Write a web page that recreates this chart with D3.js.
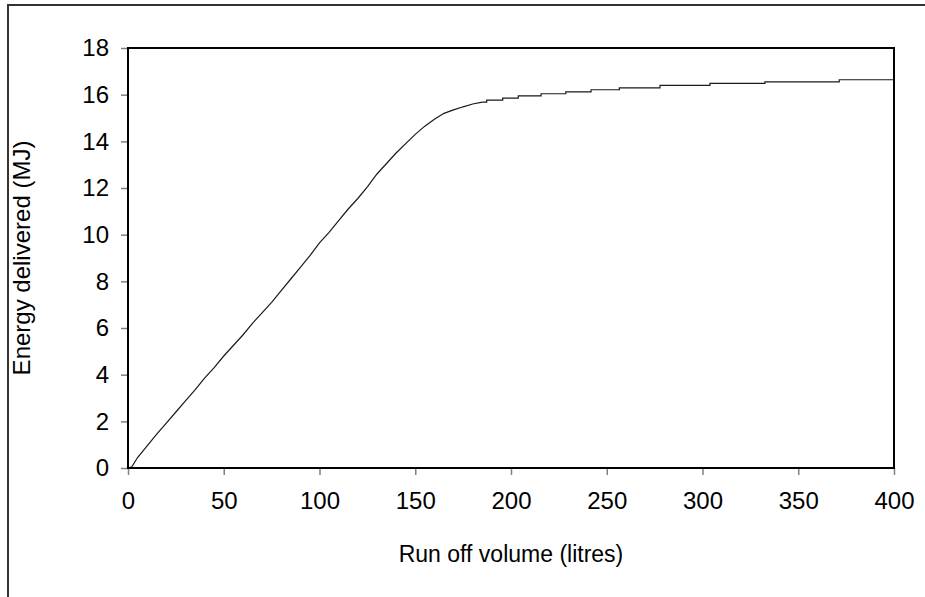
<!DOCTYPE html>
<html>
<head>
<meta charset="utf-8">
<script src="https://cdn.jsdelivr.net/npm/d3@7"></script>
<style>
  body { margin: 0; background: #fff; }
  svg text { font-family: "Liberation Sans", Arial, sans-serif; fill: #000; }
</style>
</head>
<body>
<svg id="chart"></svg>
<script>
// Rising part of the curve (litres, MJ)
var riseLitres = [0, 2, 5, 10, 15, 20, 25, 30, 35, 40, 45, 50, 55, 60, 65, 70, 75, 80, 85, 90, 95,
                  100, 105, 110, 115, 120, 125, 130, 135, 140, 145, 150, 155, 160, 165, 170, 175, 180, 185];
var riseEnergy = [0, 0.05, 0.45, 0.95, 1.45, 1.92, 2.4, 2.88, 3.35, 3.85, 4.3, 4.8, 5.25, 5.7, 6.2, 6.65, 7.1, 7.6, 8.1, 8.6, 9.1,
                  9.65, 10.1, 10.6, 11.1, 11.55, 12.05, 12.6, 13.05, 13.5, 13.9, 14.3, 14.65, 14.95, 15.2, 15.35, 15.48, 15.6, 15.68];
// Plateau, drawn as steps
var stepLitres = [185, 187.3, 195.7, 203.8, 215.7, 228.6, 241.8, 256.6, 277.8, 303.9, 332.6, 371.4, 400];
var stepEnergy = [15.68, 15.77, 15.85, 15.95, 16.04, 16.12, 16.21, 16.29, 16.40, 16.48, 16.55, 16.64, 16.64];

var xTicks = [0, 50, 100, 150, 200, 250, 300, 350, 400];
var yTicks = [0, 2, 4, 6, 8, 10, 12, 14, 16, 18];

var W = 925, H = 597;
var plot = {left: 128, top: 48, right: 894, bottom: 468};

var svg = d3.select("#chart").attr("width", W).attr("height", H);

// outer frame
svg.append("rect")
    .attr("x", 8).attr("y", 5)
    .attr("width", 940).attr("height", 620)
    .style("fill", "none").style("stroke", "#333").style("stroke-width", 2);

var x = d3.scaleLinear().domain([0, 400]).range([plot.left, plot.right]);
var y = d3.scaleLinear().domain([0, 18]).range([plot.bottom, plot.top]);

// axes
var xAxis = svg.append("g")
    .attr("transform", "translate(0," + plot.bottom + ")")
    .call(d3.axisBottom(x).tickValues(xTicks).tickSize(7).tickPadding(17).tickFormat(d3.format("d")));
var yAxis = svg.append("g")
    .attr("transform", "translate(" + plot.left + ",0)")
    .call(d3.axisLeft(y).tickValues(yTicks).tickSize(7).tickPadding(12).tickFormat(d3.format("d")));

[xAxis, yAxis].forEach(function(g){
    g.select(".domain").remove();
    g.selectAll(".tick line").style("stroke", "#808080").style("stroke-width", 1.5);
    g.selectAll(".tick text").style("font-size", "24px").style("font-family", "Liberation Sans, Arial, sans-serif").style("fill", "#000");
});

// the curve
var rise = riseLitres.map(function(v, i){ return [v, riseEnergy[i]]; });
var steps = stepLitres.map(function(v, i){ return [v, stepEnergy[i]]; });

var line = d3.line()
    .x(function(d){ return x(d[0]); })
    .y(function(d){ return y(d[1]); });

svg.append("path")
    .attr("d", line(rise))
    .style("fill", "none").style("stroke", "#1a1a1a").style("stroke-width", 1.2);
svg.append("path")
    .attr("d", line.curve(d3.curveStepAfter)(steps))
    .style("fill", "none").style("stroke", "#1a1a1a").style("stroke-width", 1.2);

// plot frame
svg.append("rect")
    .attr("x", plot.left).attr("y", plot.top)
    .attr("width", plot.right - plot.left).attr("height", plot.bottom - plot.top)
    .style("fill", "none").style("stroke", "#000").style("stroke-width", 2);

// axis titles
svg.append("text")
    .attr("x", (plot.left + plot.right) / 2).attr("y", 562)
    .attr("text-anchor", "middle")
    .style("font-size", "23px")
    .text("Run off volume (litres)");
svg.append("text")
    .attr("transform", "translate(30," + ((plot.top + plot.bottom) / 2) + ") rotate(-90)")
    .attr("text-anchor", "middle")
    .style("font-size", "24px")
    .text("Energy delivered (MJ)");
</script>
</body>
</html>
